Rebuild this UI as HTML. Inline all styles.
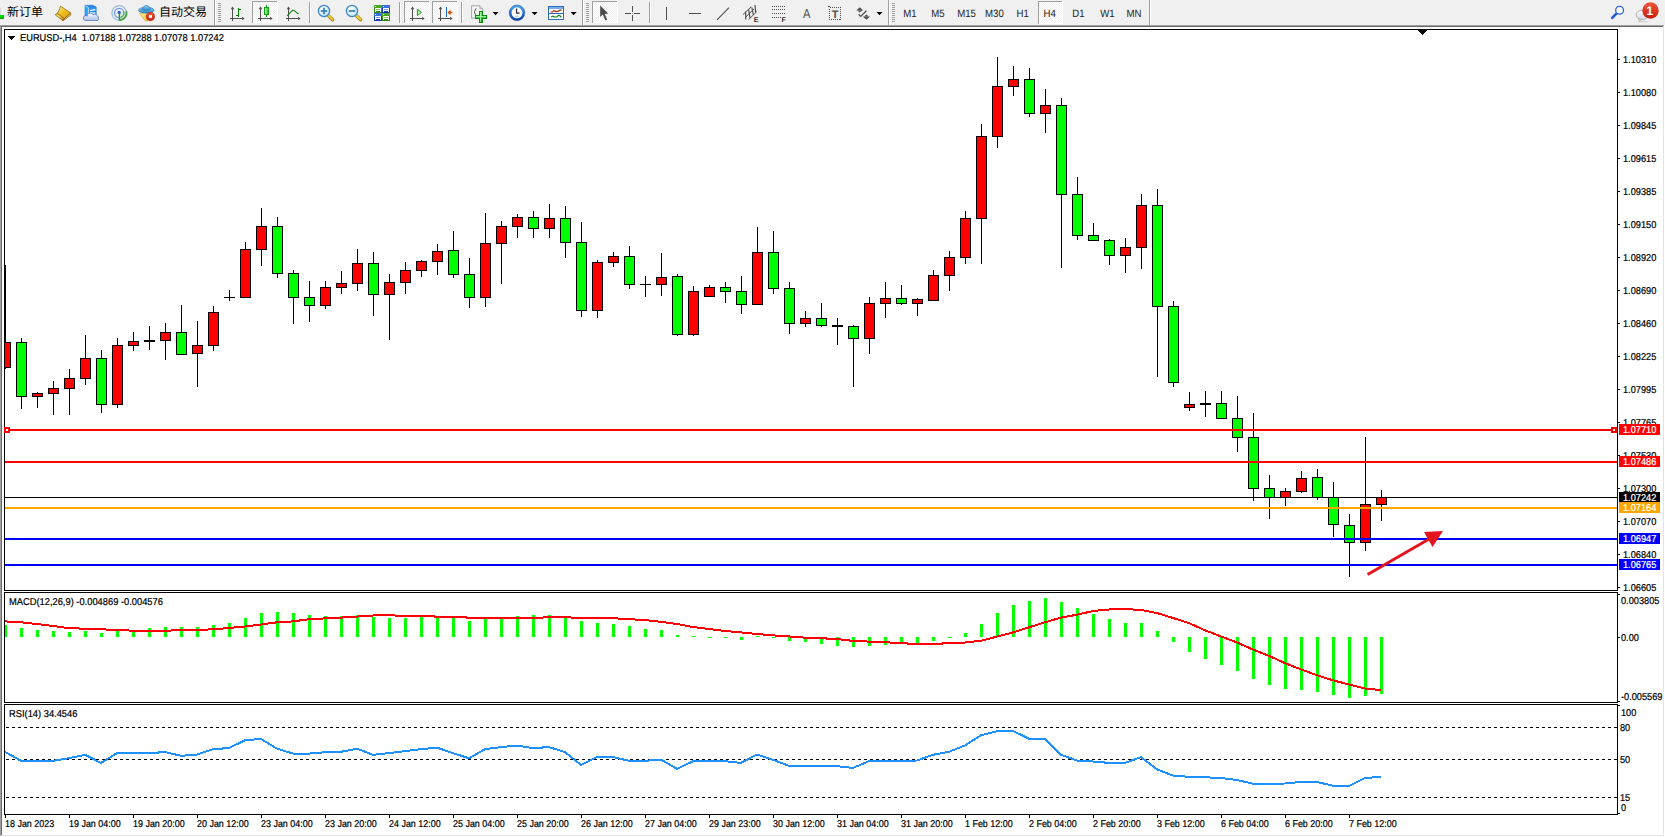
<!DOCTYPE html>
<html lang="zh-CN">
<head>
<meta charset="utf-8">
<title>EURUSD-,H4</title>
<style>
html,body{margin:0;padding:0;background:#fff;overflow:hidden}
body{width:1665px;height:837px;position:relative;font-family:"Liberation Sans", sans-serif}
svg{position:absolute;left:0;top:0;display:block}
svg text{font-family:"Liberation Sans", sans-serif;white-space:pre}
</style>
</head>
<body>
<svg width="1665" height="837" viewBox="0 0 1665 837" shape-rendering="crispEdges" text-rendering="geometricPrecision">
<defs>
<clipPath id="cm"><rect x="5" y="30" width="1612" height="560"/></clipPath>
<clipPath id="cm2"><rect x="5" y="593" width="1612" height="109"/></clipPath>
<clipPath id="cm3"><rect x="5" y="705" width="1612" height="109"/></clipPath>
</defs>
<rect x="0" y="0" width="1665" height="837" fill="#ffffff"/>
<rect x="0" y="0" width="1665" height="25" fill="#f0f0f0"/>
<rect x="0" y="25" width="1665" height="1" fill="#a0a0a0"/>
<rect x="0" y="26" width="1665" height="1" fill="#696969"/>
<rect x="0" y="25" width="1" height="812" fill="#a0a0a0"/>
<rect x="1" y="26" width="1" height="811" fill="#696969"/>
<rect x="1663" y="26" width="1" height="811" fill="#e3e3e3"/>
<rect x="1664" y="25" width="1" height="812" fill="#ffffff"/>
<rect x="1" y="835" width="1663" height="1" fill="#e3e3e3"/>
<rect x="0" y="836" width="1665" height="1" fill="#ffffff"/>
<rect x="4" y="29" width="1614" height="1" fill="#000"/>
<rect x="4" y="590" width="1614" height="1" fill="#000"/>
<rect x="4" y="29" width="1" height="562" fill="#000"/>
<rect x="1617" y="29" width="1" height="562" fill="#000"/>
<rect x="4" y="592" width="1614" height="1" fill="#000"/>
<rect x="4" y="702" width="1614" height="1" fill="#000"/>
<rect x="4" y="592" width="1" height="111" fill="#000"/>
<rect x="1617" y="592" width="1" height="111" fill="#000"/>
<rect x="4" y="704" width="1614" height="1" fill="#000"/>
<rect x="4" y="814" width="1614" height="1" fill="#000"/>
<rect x="4" y="704" width="1" height="111" fill="#000"/>
<rect x="1617" y="704" width="1" height="111" fill="#000"/>
<g clip-path="url(#cm)">
<rect x="5" y="265" width="1" height="104" fill="#000"/>
<rect x="0" y="342" width="11" height="26" fill="#000"/>
<rect x="1" y="343" width="9" height="24" fill="#ff0000"/>
<rect x="21" y="338" width="1" height="71" fill="#000"/>
<rect x="16" y="342" width="11" height="55" fill="#000"/>
<rect x="17" y="343" width="9" height="53" fill="#00ff00"/>
<rect x="37" y="392" width="1" height="16" fill="#000"/>
<rect x="32" y="393" width="11" height="4" fill="#000"/>
<rect x="33" y="394" width="9" height="2" fill="#ff0000"/>
<rect x="53" y="381" width="1" height="34" fill="#000"/>
<rect x="48" y="388" width="11" height="6" fill="#000"/>
<rect x="49" y="389" width="9" height="4" fill="#ff0000"/>
<rect x="69" y="369" width="1" height="46" fill="#000"/>
<rect x="64" y="378" width="11" height="11" fill="#000"/>
<rect x="65" y="379" width="9" height="9" fill="#ff0000"/>
<rect x="85" y="335" width="1" height="50" fill="#000"/>
<rect x="80" y="358" width="11" height="21" fill="#000"/>
<rect x="81" y="359" width="9" height="19" fill="#ff0000"/>
<rect x="101" y="350" width="1" height="63" fill="#000"/>
<rect x="96" y="358" width="11" height="47" fill="#000"/>
<rect x="97" y="359" width="9" height="45" fill="#00ff00"/>
<rect x="117" y="338" width="1" height="70" fill="#000"/>
<rect x="112" y="345" width="11" height="60" fill="#000"/>
<rect x="113" y="346" width="9" height="58" fill="#ff0000"/>
<rect x="133" y="332" width="1" height="19" fill="#000"/>
<rect x="128" y="341" width="11" height="5" fill="#000"/>
<rect x="129" y="342" width="9" height="3" fill="#ff0000"/>
<rect x="149" y="326" width="1" height="24" fill="#000"/>
<rect x="144" y="340" width="11" height="2" fill="#000"/>
<rect x="165" y="323" width="1" height="37" fill="#000"/>
<rect x="160" y="332" width="11" height="9" fill="#000"/>
<rect x="161" y="333" width="9" height="7" fill="#ff0000"/>
<rect x="181" y="305" width="1" height="50" fill="#000"/>
<rect x="176" y="332" width="11" height="23" fill="#000"/>
<rect x="177" y="333" width="9" height="21" fill="#00ff00"/>
<rect x="197" y="321" width="1" height="66" fill="#000"/>
<rect x="192" y="345" width="11" height="9" fill="#000"/>
<rect x="193" y="346" width="9" height="7" fill="#ff0000"/>
<rect x="213" y="306" width="1" height="45" fill="#000"/>
<rect x="208" y="312" width="11" height="34" fill="#000"/>
<rect x="209" y="313" width="9" height="32" fill="#ff0000"/>
<rect x="229" y="290" width="1" height="11" fill="#000"/>
<rect x="224" y="297" width="11" height="1" fill="#000"/>
<rect x="245" y="242" width="1" height="56" fill="#000"/>
<rect x="240" y="249" width="11" height="49" fill="#000"/>
<rect x="241" y="250" width="9" height="47" fill="#ff0000"/>
<rect x="261" y="208" width="1" height="58" fill="#000"/>
<rect x="256" y="226" width="11" height="24" fill="#000"/>
<rect x="257" y="227" width="9" height="22" fill="#ff0000"/>
<rect x="277" y="217" width="1" height="61" fill="#000"/>
<rect x="272" y="226" width="11" height="48" fill="#000"/>
<rect x="273" y="227" width="9" height="46" fill="#00ff00"/>
<rect x="293" y="270" width="1" height="54" fill="#000"/>
<rect x="288" y="273" width="11" height="25" fill="#000"/>
<rect x="289" y="274" width="9" height="23" fill="#00ff00"/>
<rect x="309" y="281" width="1" height="41" fill="#000"/>
<rect x="304" y="297" width="11" height="9" fill="#000"/>
<rect x="305" y="298" width="9" height="7" fill="#00ff00"/>
<rect x="325" y="281" width="1" height="28" fill="#000"/>
<rect x="320" y="287" width="11" height="19" fill="#000"/>
<rect x="321" y="288" width="9" height="17" fill="#ff0000"/>
<rect x="341" y="271" width="1" height="23" fill="#000"/>
<rect x="336" y="283" width="11" height="5" fill="#000"/>
<rect x="337" y="284" width="9" height="3" fill="#ff0000"/>
<rect x="357" y="249" width="1" height="42" fill="#000"/>
<rect x="352" y="263" width="11" height="21" fill="#000"/>
<rect x="353" y="264" width="9" height="19" fill="#ff0000"/>
<rect x="373" y="252" width="1" height="64" fill="#000"/>
<rect x="368" y="263" width="11" height="32" fill="#000"/>
<rect x="369" y="264" width="9" height="30" fill="#00ff00"/>
<rect x="389" y="274" width="1" height="66" fill="#000"/>
<rect x="384" y="282" width="11" height="13" fill="#000"/>
<rect x="385" y="283" width="9" height="11" fill="#ff0000"/>
<rect x="405" y="262" width="1" height="32" fill="#000"/>
<rect x="400" y="270" width="11" height="13" fill="#000"/>
<rect x="401" y="271" width="9" height="11" fill="#ff0000"/>
<rect x="421" y="260" width="1" height="17" fill="#000"/>
<rect x="416" y="261" width="11" height="10" fill="#000"/>
<rect x="417" y="262" width="9" height="8" fill="#ff0000"/>
<rect x="437" y="244" width="1" height="31" fill="#000"/>
<rect x="432" y="251" width="11" height="11" fill="#000"/>
<rect x="433" y="252" width="9" height="9" fill="#ff0000"/>
<rect x="453" y="231" width="1" height="47" fill="#000"/>
<rect x="448" y="250" width="11" height="25" fill="#000"/>
<rect x="449" y="251" width="9" height="23" fill="#00ff00"/>
<rect x="469" y="258" width="1" height="50" fill="#000"/>
<rect x="464" y="274" width="11" height="24" fill="#000"/>
<rect x="465" y="275" width="9" height="22" fill="#00ff00"/>
<rect x="485" y="213" width="1" height="94" fill="#000"/>
<rect x="480" y="243" width="11" height="55" fill="#000"/>
<rect x="481" y="244" width="9" height="53" fill="#ff0000"/>
<rect x="501" y="221" width="1" height="63" fill="#000"/>
<rect x="496" y="226" width="11" height="18" fill="#000"/>
<rect x="497" y="227" width="9" height="16" fill="#ff0000"/>
<rect x="517" y="214" width="1" height="24" fill="#000"/>
<rect x="512" y="217" width="11" height="10" fill="#000"/>
<rect x="513" y="218" width="9" height="8" fill="#ff0000"/>
<rect x="533" y="211" width="1" height="27" fill="#000"/>
<rect x="528" y="217" width="11" height="12" fill="#000"/>
<rect x="529" y="218" width="9" height="10" fill="#00ff00"/>
<rect x="549" y="204" width="1" height="34" fill="#000"/>
<rect x="544" y="218" width="11" height="11" fill="#000"/>
<rect x="545" y="219" width="9" height="9" fill="#ff0000"/>
<rect x="565" y="206" width="1" height="52" fill="#000"/>
<rect x="560" y="218" width="11" height="25" fill="#000"/>
<rect x="561" y="219" width="9" height="23" fill="#00ff00"/>
<rect x="581" y="222" width="1" height="95" fill="#000"/>
<rect x="576" y="242" width="11" height="69" fill="#000"/>
<rect x="577" y="243" width="9" height="67" fill="#00ff00"/>
<rect x="597" y="260" width="1" height="58" fill="#000"/>
<rect x="592" y="262" width="11" height="49" fill="#000"/>
<rect x="593" y="263" width="9" height="47" fill="#ff0000"/>
<rect x="613" y="252" width="1" height="15" fill="#000"/>
<rect x="608" y="256" width="11" height="7" fill="#000"/>
<rect x="609" y="257" width="9" height="5" fill="#ff0000"/>
<rect x="629" y="246" width="1" height="43" fill="#000"/>
<rect x="624" y="256" width="11" height="29" fill="#000"/>
<rect x="625" y="257" width="9" height="27" fill="#00ff00"/>
<rect x="645" y="276" width="1" height="21" fill="#000"/>
<rect x="640" y="284" width="11" height="1" fill="#000"/>
<rect x="661" y="253" width="1" height="43" fill="#000"/>
<rect x="656" y="277" width="11" height="8" fill="#000"/>
<rect x="657" y="278" width="9" height="6" fill="#ff0000"/>
<rect x="677" y="274" width="1" height="62" fill="#000"/>
<rect x="672" y="276" width="11" height="59" fill="#000"/>
<rect x="673" y="277" width="9" height="57" fill="#00ff00"/>
<rect x="693" y="286" width="1" height="50" fill="#000"/>
<rect x="688" y="291" width="11" height="44" fill="#000"/>
<rect x="689" y="292" width="9" height="42" fill="#ff0000"/>
<rect x="709" y="285" width="1" height="12" fill="#000"/>
<rect x="704" y="287" width="11" height="10" fill="#000"/>
<rect x="705" y="288" width="9" height="8" fill="#ff0000"/>
<rect x="725" y="282" width="1" height="21" fill="#000"/>
<rect x="720" y="287" width="11" height="5" fill="#000"/>
<rect x="721" y="288" width="9" height="3" fill="#00ff00"/>
<rect x="741" y="276" width="1" height="38" fill="#000"/>
<rect x="736" y="291" width="11" height="14" fill="#000"/>
<rect x="737" y="292" width="9" height="12" fill="#00ff00"/>
<rect x="757" y="227" width="1" height="78" fill="#000"/>
<rect x="752" y="252" width="11" height="53" fill="#000"/>
<rect x="753" y="253" width="9" height="51" fill="#ff0000"/>
<rect x="773" y="231" width="1" height="63" fill="#000"/>
<rect x="768" y="252" width="11" height="37" fill="#000"/>
<rect x="769" y="253" width="9" height="35" fill="#00ff00"/>
<rect x="789" y="282" width="1" height="52" fill="#000"/>
<rect x="784" y="288" width="11" height="36" fill="#000"/>
<rect x="785" y="289" width="9" height="34" fill="#00ff00"/>
<rect x="805" y="311" width="1" height="16" fill="#000"/>
<rect x="800" y="318" width="11" height="6" fill="#000"/>
<rect x="801" y="319" width="9" height="4" fill="#ff0000"/>
<rect x="821" y="303" width="1" height="24" fill="#000"/>
<rect x="816" y="318" width="11" height="8" fill="#000"/>
<rect x="817" y="319" width="9" height="6" fill="#00ff00"/>
<rect x="837" y="318" width="1" height="27" fill="#000"/>
<rect x="832" y="325" width="11" height="2" fill="#000"/>
<rect x="853" y="325" width="1" height="62" fill="#000"/>
<rect x="848" y="326" width="11" height="13" fill="#000"/>
<rect x="849" y="327" width="9" height="11" fill="#00ff00"/>
<rect x="869" y="297" width="1" height="57" fill="#000"/>
<rect x="864" y="303" width="11" height="36" fill="#000"/>
<rect x="865" y="304" width="9" height="34" fill="#ff0000"/>
<rect x="885" y="282" width="1" height="36" fill="#000"/>
<rect x="880" y="298" width="11" height="6" fill="#000"/>
<rect x="881" y="299" width="9" height="4" fill="#ff0000"/>
<rect x="901" y="285" width="1" height="20" fill="#000"/>
<rect x="896" y="298" width="11" height="6" fill="#000"/>
<rect x="897" y="299" width="9" height="4" fill="#00ff00"/>
<rect x="917" y="298" width="1" height="18" fill="#000"/>
<rect x="912" y="299" width="11" height="5" fill="#000"/>
<rect x="913" y="300" width="9" height="3" fill="#ff0000"/>
<rect x="933" y="270" width="1" height="31" fill="#000"/>
<rect x="928" y="275" width="11" height="26" fill="#000"/>
<rect x="929" y="276" width="9" height="24" fill="#ff0000"/>
<rect x="949" y="251" width="1" height="40" fill="#000"/>
<rect x="944" y="257" width="11" height="19" fill="#000"/>
<rect x="945" y="258" width="9" height="17" fill="#ff0000"/>
<rect x="965" y="211" width="1" height="53" fill="#000"/>
<rect x="960" y="218" width="11" height="40" fill="#000"/>
<rect x="961" y="219" width="9" height="38" fill="#ff0000"/>
<rect x="981" y="124" width="1" height="140" fill="#000"/>
<rect x="976" y="136" width="11" height="83" fill="#000"/>
<rect x="977" y="137" width="9" height="81" fill="#ff0000"/>
<rect x="997" y="57" width="1" height="91" fill="#000"/>
<rect x="992" y="86" width="11" height="51" fill="#000"/>
<rect x="993" y="87" width="9" height="49" fill="#ff0000"/>
<rect x="1013" y="66" width="1" height="30" fill="#000"/>
<rect x="1008" y="79" width="11" height="8" fill="#000"/>
<rect x="1009" y="80" width="9" height="6" fill="#ff0000"/>
<rect x="1029" y="68" width="1" height="49" fill="#000"/>
<rect x="1024" y="79" width="11" height="35" fill="#000"/>
<rect x="1025" y="80" width="9" height="33" fill="#00ff00"/>
<rect x="1045" y="89" width="1" height="44" fill="#000"/>
<rect x="1040" y="105" width="11" height="9" fill="#000"/>
<rect x="1041" y="106" width="9" height="7" fill="#ff0000"/>
<rect x="1061" y="98" width="1" height="170" fill="#000"/>
<rect x="1056" y="105" width="11" height="90" fill="#000"/>
<rect x="1057" y="106" width="9" height="88" fill="#00ff00"/>
<rect x="1077" y="177" width="1" height="63" fill="#000"/>
<rect x="1072" y="194" width="11" height="42" fill="#000"/>
<rect x="1073" y="195" width="9" height="40" fill="#00ff00"/>
<rect x="1093" y="223" width="1" height="18" fill="#000"/>
<rect x="1088" y="235" width="11" height="6" fill="#000"/>
<rect x="1089" y="236" width="9" height="4" fill="#00ff00"/>
<rect x="1109" y="239" width="1" height="26" fill="#000"/>
<rect x="1104" y="240" width="11" height="16" fill="#000"/>
<rect x="1105" y="241" width="9" height="14" fill="#00ff00"/>
<rect x="1125" y="238" width="1" height="35" fill="#000"/>
<rect x="1120" y="247" width="11" height="9" fill="#000"/>
<rect x="1121" y="248" width="9" height="7" fill="#ff0000"/>
<rect x="1141" y="194" width="1" height="75" fill="#000"/>
<rect x="1136" y="205" width="11" height="43" fill="#000"/>
<rect x="1137" y="206" width="9" height="41" fill="#ff0000"/>
<rect x="1157" y="189" width="1" height="188" fill="#000"/>
<rect x="1152" y="205" width="11" height="102" fill="#000"/>
<rect x="1153" y="206" width="9" height="100" fill="#00ff00"/>
<rect x="1173" y="301" width="1" height="86" fill="#000"/>
<rect x="1168" y="306" width="11" height="77" fill="#000"/>
<rect x="1169" y="307" width="9" height="75" fill="#00ff00"/>
<rect x="1189" y="392" width="1" height="19" fill="#000"/>
<rect x="1184" y="404" width="11" height="4" fill="#000"/>
<rect x="1185" y="405" width="9" height="2" fill="#ff0000"/>
<rect x="1205" y="391" width="1" height="26" fill="#000"/>
<rect x="1200" y="403" width="11" height="2" fill="#000"/>
<rect x="1221" y="391" width="1" height="28" fill="#000"/>
<rect x="1216" y="403" width="11" height="16" fill="#000"/>
<rect x="1217" y="404" width="9" height="14" fill="#00ff00"/>
<rect x="1237" y="396" width="1" height="56" fill="#000"/>
<rect x="1232" y="418" width="11" height="20" fill="#000"/>
<rect x="1233" y="419" width="9" height="18" fill="#00ff00"/>
<rect x="1253" y="413" width="1" height="88" fill="#000"/>
<rect x="1248" y="437" width="11" height="52" fill="#000"/>
<rect x="1249" y="438" width="9" height="50" fill="#00ff00"/>
<rect x="1269" y="475" width="1" height="44" fill="#000"/>
<rect x="1264" y="488" width="11" height="10" fill="#000"/>
<rect x="1265" y="489" width="9" height="8" fill="#00ff00"/>
<rect x="1285" y="488" width="1" height="18" fill="#000"/>
<rect x="1280" y="491" width="11" height="7" fill="#000"/>
<rect x="1281" y="492" width="9" height="5" fill="#ff0000"/>
<rect x="1301" y="471" width="1" height="22" fill="#000"/>
<rect x="1296" y="478" width="11" height="14" fill="#000"/>
<rect x="1297" y="479" width="9" height="12" fill="#ff0000"/>
<rect x="1317" y="469" width="1" height="31" fill="#000"/>
<rect x="1312" y="477" width="11" height="21" fill="#000"/>
<rect x="1313" y="478" width="9" height="19" fill="#00ff00"/>
<rect x="1333" y="482" width="1" height="55" fill="#000"/>
<rect x="1328" y="497" width="11" height="28" fill="#000"/>
<rect x="1329" y="498" width="9" height="26" fill="#00ff00"/>
<rect x="1349" y="514" width="1" height="63" fill="#000"/>
<rect x="1344" y="525" width="11" height="18" fill="#000"/>
<rect x="1345" y="526" width="9" height="16" fill="#00ff00"/>
<rect x="1365" y="437" width="1" height="114" fill="#000"/>
<rect x="1360" y="504" width="11" height="39" fill="#000"/>
<rect x="1361" y="505" width="9" height="37" fill="#ff0000"/>
<rect x="1381" y="490" width="1" height="31" fill="#000"/>
<rect x="1376" y="497" width="11" height="8" fill="#000"/>
<rect x="1377" y="498" width="9" height="6" fill="#ff0000"/>
</g>
<rect x="1618" y="59" width="2" height="1" fill="#000"/>
<text transform="translate(1623 63) scale(0.92 1)" font-size="10" fill="#000" stroke="#000" stroke-width="0.22">1.10310</text>
<rect x="1618" y="92" width="2" height="1" fill="#000"/>
<text transform="translate(1623 96) scale(0.92 1)" font-size="10" fill="#000" stroke="#000" stroke-width="0.22">1.10080</text>
<rect x="1618" y="125" width="2" height="1" fill="#000"/>
<text transform="translate(1623 129) scale(0.92 1)" font-size="10" fill="#000" stroke="#000" stroke-width="0.22">1.09845</text>
<rect x="1618" y="158" width="2" height="1" fill="#000"/>
<text transform="translate(1623 162) scale(0.92 1)" font-size="10" fill="#000" stroke="#000" stroke-width="0.22">1.09615</text>
<rect x="1618" y="191" width="2" height="1" fill="#000"/>
<text transform="translate(1623 195) scale(0.92 1)" font-size="10" fill="#000" stroke="#000" stroke-width="0.22">1.09385</text>
<rect x="1618" y="224" width="2" height="1" fill="#000"/>
<text transform="translate(1623 228) scale(0.92 1)" font-size="10" fill="#000" stroke="#000" stroke-width="0.22">1.09150</text>
<rect x="1618" y="257" width="2" height="1" fill="#000"/>
<text transform="translate(1623 261) scale(0.92 1)" font-size="10" fill="#000" stroke="#000" stroke-width="0.22">1.08920</text>
<rect x="1618" y="290" width="2" height="1" fill="#000"/>
<text transform="translate(1623 294) scale(0.92 1)" font-size="10" fill="#000" stroke="#000" stroke-width="0.22">1.08690</text>
<rect x="1618" y="323" width="2" height="1" fill="#000"/>
<text transform="translate(1623 327) scale(0.92 1)" font-size="10" fill="#000" stroke="#000" stroke-width="0.22">1.08460</text>
<rect x="1618" y="356" width="2" height="1" fill="#000"/>
<text transform="translate(1623 360) scale(0.92 1)" font-size="10" fill="#000" stroke="#000" stroke-width="0.22">1.08225</text>
<rect x="1618" y="389" width="2" height="1" fill="#000"/>
<text transform="translate(1623 393) scale(0.92 1)" font-size="10" fill="#000" stroke="#000" stroke-width="0.22">1.07995</text>
<rect x="1618" y="422" width="2" height="1" fill="#000"/>
<text transform="translate(1623 426) scale(0.92 1)" font-size="10" fill="#000" stroke="#000" stroke-width="0.22">1.07765</text>
<rect x="1618" y="455" width="2" height="1" fill="#000"/>
<text transform="translate(1623 459) scale(0.92 1)" font-size="10" fill="#000" stroke="#000" stroke-width="0.22">1.07530</text>
<rect x="1618" y="488" width="2" height="1" fill="#000"/>
<text transform="translate(1623 492) scale(0.92 1)" font-size="10" fill="#000" stroke="#000" stroke-width="0.22">1.07300</text>
<rect x="1618" y="521" width="2" height="1" fill="#000"/>
<text transform="translate(1623 525) scale(0.92 1)" font-size="10" fill="#000" stroke="#000" stroke-width="0.22">1.07070</text>
<rect x="1618" y="554" width="2" height="1" fill="#000"/>
<text transform="translate(1623 558) scale(0.92 1)" font-size="10" fill="#000" stroke="#000" stroke-width="0.22">1.06840</text>
<rect x="1618" y="587" width="2" height="1" fill="#000"/>
<text transform="translate(1623 591) scale(0.92 1)" font-size="10" fill="#000" stroke="#000" stroke-width="0.22">1.06605</text>
<rect x="5" y="429" width="1612" height="2" fill="#ff0000"/>
<rect x="1619" y="424" width="41" height="11" fill="#ff0000"/>
<text transform="translate(1623 433) scale(0.92 1)" font-size="10" fill="#fff" stroke="#fff" stroke-width="0.22">1.07710</text>
<rect x="5" y="461" width="1612" height="2" fill="#ff0000"/>
<rect x="1619" y="456" width="41" height="11" fill="#ff0000"/>
<text transform="translate(1623 465) scale(0.92 1)" font-size="10" fill="#fff" stroke="#fff" stroke-width="0.22">1.07486</text>
<rect x="5" y="497" width="1612" height="1" fill="#000000"/>
<rect x="1619" y="492" width="41" height="11" fill="#000000"/>
<text transform="translate(1623 501) scale(0.92 1)" font-size="10" fill="#fff" stroke="#fff" stroke-width="0.22">1.07242</text>
<rect x="5" y="507" width="1612" height="2" fill="#ffa500"/>
<rect x="1619" y="502" width="41" height="11" fill="#ffa500"/>
<text transform="translate(1623 511) scale(0.92 1)" font-size="10" fill="#fff" stroke="#fff" stroke-width="0.22">1.07164</text>
<rect x="5" y="538" width="1612" height="2" fill="#0000ff"/>
<rect x="1619" y="533" width="41" height="11" fill="#0000ff"/>
<text transform="translate(1623 542) scale(0.92 1)" font-size="10" fill="#fff" stroke="#fff" stroke-width="0.22">1.06947</text>
<rect x="5" y="564" width="1612" height="2" fill="#0000ff"/>
<rect x="1619" y="559" width="41" height="11" fill="#0000ff"/>
<text transform="translate(1623 568) scale(0.92 1)" font-size="10" fill="#fff" stroke="#fff" stroke-width="0.22">1.06765</text>
<rect x="4" y="427" width="6" height="6" fill="#ff0000"/>
<rect x="6" y="429" width="2" height="2" fill="#ffffff"/>
<rect x="1611" y="427" width="6" height="6" fill="#ff0000"/>
<rect x="1613" y="429" width="2" height="2" fill="#ffffff"/>
<g shape-rendering="geometricPrecision"><line x1="1367.6" y1="574.5" x2="1430" y2="538.5" stroke="#e4141e" stroke-width="3"/><polygon points="1424,532 1443,531 1432.5,547" fill="#e4141e"/></g>
<rect x="8" y="36" width="7" height="1" fill="#000"/>
<rect x="9" y="37" width="5" height="1" fill="#000"/>
<rect x="10" y="38" width="3" height="1" fill="#000"/>
<rect x="11" y="39" width="1" height="1" fill="#000"/>
<text transform="translate(20 41) scale(0.928 1)" font-size="10" fill="#000" stroke="#000" stroke-width="0.22">EURUSD-,H4  1.07188 1.07288 1.07078 1.07242</text>
<rect x="1418" y="30" width="9" height="1" fill="#000"/>
<rect x="1419" y="31" width="7" height="1" fill="#000"/>
<rect x="1420" y="32" width="5" height="1" fill="#000"/>
<rect x="1421" y="33" width="3" height="1" fill="#000"/>
<rect x="1422" y="34" width="1" height="1" fill="#000"/>
<text transform="translate(9 605) scale(0.932 1)" font-size="10" fill="#000" stroke="#000" stroke-width="0.22">MACD(12,26,9) -0.004869 -0.004576</text>
<g clip-path="url(#cm2)">
<rect x="4" y="625" width="3" height="12" fill="#00ff00"/>
<rect x="20" y="628" width="3" height="9" fill="#00ff00"/>
<rect x="36" y="630" width="3" height="7" fill="#00ff00"/>
<rect x="52" y="631" width="3" height="6" fill="#00ff00"/>
<rect x="68" y="632" width="3" height="5" fill="#00ff00"/>
<rect x="84" y="631" width="3" height="6" fill="#00ff00"/>
<rect x="100" y="633" width="3" height="4" fill="#00ff00"/>
<rect x="116" y="631" width="3" height="6" fill="#00ff00"/>
<rect x="132" y="631" width="3" height="6" fill="#00ff00"/>
<rect x="148" y="628" width="3" height="9" fill="#00ff00"/>
<rect x="164" y="627" width="3" height="10" fill="#00ff00"/>
<rect x="180" y="627" width="3" height="10" fill="#00ff00"/>
<rect x="196" y="627" width="3" height="10" fill="#00ff00"/>
<rect x="212" y="625" width="3" height="12" fill="#00ff00"/>
<rect x="228" y="623" width="3" height="14" fill="#00ff00"/>
<rect x="244" y="618" width="3" height="19" fill="#00ff00"/>
<rect x="260" y="613" width="3" height="24" fill="#00ff00"/>
<rect x="276" y="612" width="3" height="25" fill="#00ff00"/>
<rect x="292" y="613" width="3" height="24" fill="#00ff00"/>
<rect x="308" y="615" width="3" height="22" fill="#00ff00"/>
<rect x="324" y="616" width="3" height="21" fill="#00ff00"/>
<rect x="340" y="616" width="3" height="21" fill="#00ff00"/>
<rect x="356" y="615" width="3" height="22" fill="#00ff00"/>
<rect x="372" y="617" width="3" height="20" fill="#00ff00"/>
<rect x="388" y="618" width="3" height="19" fill="#00ff00"/>
<rect x="404" y="618" width="3" height="19" fill="#00ff00"/>
<rect x="420" y="617" width="3" height="20" fill="#00ff00"/>
<rect x="436" y="616" width="3" height="21" fill="#00ff00"/>
<rect x="452" y="617" width="3" height="20" fill="#00ff00"/>
<rect x="468" y="621" width="3" height="16" fill="#00ff00"/>
<rect x="484" y="618" width="3" height="19" fill="#00ff00"/>
<rect x="500" y="618" width="3" height="19" fill="#00ff00"/>
<rect x="516" y="616" width="3" height="21" fill="#00ff00"/>
<rect x="532" y="615" width="3" height="22" fill="#00ff00"/>
<rect x="548" y="615" width="3" height="22" fill="#00ff00"/>
<rect x="564" y="616" width="3" height="21" fill="#00ff00"/>
<rect x="580" y="621" width="3" height="16" fill="#00ff00"/>
<rect x="596" y="623" width="3" height="14" fill="#00ff00"/>
<rect x="612" y="624" width="3" height="13" fill="#00ff00"/>
<rect x="628" y="626" width="3" height="11" fill="#00ff00"/>
<rect x="644" y="629" width="3" height="8" fill="#00ff00"/>
<rect x="660" y="630" width="3" height="7" fill="#00ff00"/>
<rect x="676" y="635" width="3" height="2" fill="#00ff00"/>
<rect x="692" y="636" width="3" height="1" fill="#00ff00"/>
<rect x="708" y="637" width="3" height="1" fill="#00ff00"/>
<rect x="724" y="637" width="3" height="1" fill="#00ff00"/>
<rect x="740" y="637" width="3" height="3" fill="#00ff00"/>
<rect x="756" y="636" width="3" height="1" fill="#00ff00"/>
<rect x="772" y="637" width="3" height="1" fill="#00ff00"/>
<rect x="788" y="637" width="3" height="4" fill="#00ff00"/>
<rect x="804" y="637" width="3" height="5" fill="#00ff00"/>
<rect x="820" y="637" width="3" height="7" fill="#00ff00"/>
<rect x="836" y="637" width="3" height="9" fill="#00ff00"/>
<rect x="852" y="637" width="3" height="10" fill="#00ff00"/>
<rect x="868" y="637" width="3" height="9" fill="#00ff00"/>
<rect x="884" y="637" width="3" height="8" fill="#00ff00"/>
<rect x="900" y="637" width="3" height="7" fill="#00ff00"/>
<rect x="916" y="637" width="3" height="6" fill="#00ff00"/>
<rect x="932" y="637" width="3" height="4" fill="#00ff00"/>
<rect x="948" y="637" width="3" height="1" fill="#00ff00"/>
<rect x="964" y="633" width="3" height="4" fill="#00ff00"/>
<rect x="980" y="624" width="3" height="13" fill="#00ff00"/>
<rect x="996" y="613" width="3" height="24" fill="#00ff00"/>
<rect x="1012" y="605" width="3" height="32" fill="#00ff00"/>
<rect x="1028" y="601" width="3" height="36" fill="#00ff00"/>
<rect x="1044" y="598" width="3" height="39" fill="#00ff00"/>
<rect x="1060" y="602" width="3" height="35" fill="#00ff00"/>
<rect x="1076" y="608" width="3" height="29" fill="#00ff00"/>
<rect x="1092" y="614" width="3" height="23" fill="#00ff00"/>
<rect x="1108" y="619" width="3" height="18" fill="#00ff00"/>
<rect x="1124" y="623" width="3" height="14" fill="#00ff00"/>
<rect x="1140" y="623" width="3" height="14" fill="#00ff00"/>
<rect x="1156" y="631" width="3" height="6" fill="#00ff00"/>
<rect x="1172" y="637" width="3" height="5" fill="#00ff00"/>
<rect x="1188" y="637" width="3" height="15" fill="#00ff00"/>
<rect x="1204" y="637" width="3" height="22" fill="#00ff00"/>
<rect x="1220" y="637" width="3" height="28" fill="#00ff00"/>
<rect x="1236" y="637" width="3" height="34" fill="#00ff00"/>
<rect x="1252" y="637" width="3" height="42" fill="#00ff00"/>
<rect x="1268" y="637" width="3" height="48" fill="#00ff00"/>
<rect x="1284" y="637" width="3" height="52" fill="#00ff00"/>
<rect x="1300" y="637" width="3" height="53" fill="#00ff00"/>
<rect x="1316" y="637" width="3" height="55" fill="#00ff00"/>
<rect x="1332" y="637" width="3" height="58" fill="#00ff00"/>
<rect x="1348" y="637" width="3" height="61" fill="#00ff00"/>
<rect x="1364" y="637" width="3" height="59" fill="#00ff00"/>
<rect x="1380" y="637" width="3" height="57" fill="#00ff00"/>
</g>
<polyline points="5,621.4 21,622.3 37,624.0 53,626.0 69,628.2 85,628.7 101,629.3 117,630.0 133,630.7 149,630.9 165,630.7 181,630.2 197,630.0 213,629.3 229,628.0 245,626.5 261,624.5 277,622.3 293,621.4 309,619.2 325,618.4 341,617.6 357,616.6 373,615.5 389,615.2 405,616.0 421,616.0 437,616.6 453,617.0 469,617.6 485,618.0 501,618.0 517,618.0 533,618.0 549,617.2 565,617.2 581,618.0 597,618.0 613,618.2 629,619.2 645,620.0 661,621.9 677,624.0 693,627.0 709,629.0 725,631.0 741,632.4 757,634.0 773,635.4 789,636.4 805,637.7 821,638.2 837,639.1 853,640.9 869,641.6 885,642.1 901,643.3 917,643.8 933,643.8 949,643.3 965,642.5 981,640.8 997,636.6 1013,632.4 1029,627.3 1045,622.3 1061,617.6 1077,614.7 1093,611.0 1109,609.5 1125,609.0 1141,610.0 1157,613.0 1173,618.0 1189,623.1 1205,630.3 1221,636.4 1237,642.5 1253,649.5 1269,655.9 1285,663.1 1301,669.4 1317,675.3 1333,680.3 1349,684.5 1365,688.6 1381,690.0" fill="none" stroke="#ff0000" stroke-width="2" shape-rendering="crispEdges" clip-path="url(#cm2)"/>
<rect x="1618" y="594" width="2" height="1" fill="#000"/>
<text transform="translate(1621 604) scale(0.92 1)" font-size="10" fill="#000" stroke="#000" stroke-width="0.22">0.003805</text>
<rect x="1618" y="637" width="2" height="1" fill="#000"/>
<text transform="translate(1621 641) scale(0.92 1)" font-size="10" fill="#000" stroke="#000" stroke-width="0.22">0.00</text>
<rect x="1618" y="701" width="2" height="1" fill="#000"/>
<text transform="translate(1621 700) scale(0.92 1)" font-size="10" fill="#000" stroke="#000" stroke-width="0.22">-0.005569</text>
<text transform="translate(9 717) scale(0.932 1)" font-size="10" fill="#000" stroke="#000" stroke-width="0.22">RSI(14) 34.4546</text>
<line x1="6" y1="727.5" x2="1617" y2="727.5" stroke="#000" stroke-width="1" stroke-dasharray="3 3" stroke-dashoffset="0"/>
<line x1="6" y1="759.5" x2="1617" y2="759.5" stroke="#000" stroke-width="1" stroke-dasharray="3 3" stroke-dashoffset="0"/>
<line x1="6" y1="797.5" x2="1617" y2="797.5" stroke="#000" stroke-width="1" stroke-dasharray="3 3" stroke-dashoffset="0"/>
<polyline points="5,751.9 21,760.8 37,760.8 53,760.8 69,758.2 85,754.8 101,762.9 117,753.1 133,753.1 149,753.1 165,752.1 181,755.8 197,754.5 213,749.1 229,748.1 245,740.2 261,739.0 277,748.6 293,753.6 309,753.6 325,752.3 341,751.8 357,748.7 373,754.8 389,753.1 405,751.1 421,749.1 437,747.7 453,753.1 469,758.3 485,749.1 501,747.1 517,745.5 533,748.1 549,747.1 565,752.1 581,764.9 597,757.1 613,757.1 629,760.8 645,760.8 661,759.5 677,768.9 693,761.2 709,760.8 725,761.2 741,762.9 757,754.5 773,759.8 789,765.9 805,765.9 821,765.9 837,766.2 853,767.9 869,761.2 885,760.8 901,760.8 917,760.5 933,754.8 949,751.8 965,745.4 981,735.3 997,731.2 1013,730.9 1029,738.8 1045,738.8 1061,754.8 1077,760.5 1093,761.5 1109,762.9 1125,762.9 1141,757.1 1157,769.3 1173,775.6 1189,776.8 1205,777.3 1221,778.0 1237,780.0 1253,783.7 1269,783.7 1285,783.5 1301,781.9 1317,782.0 1333,785.7 1349,785.9 1365,778.0 1381,776.8" fill="none" stroke="#1e90ff" stroke-width="2" shape-rendering="crispEdges" clip-path="url(#cm3)"/>
<rect x="1618" y="705" width="2" height="1" fill="#000"/>
<text transform="translate(1621 716) scale(0.92 1)" font-size="10" fill="#000" stroke="#000" stroke-width="0.22">100</text>
<text transform="translate(1620 731) scale(0.92 1)" font-size="10" fill="#000" stroke="#000" stroke-width="0.22">80</text>
<text transform="translate(1620 763) scale(0.92 1)" font-size="10" fill="#000" stroke="#000" stroke-width="0.22">50</text>
<text transform="translate(1620 801) scale(0.92 1)" font-size="10" fill="#000" stroke="#000" stroke-width="0.22">15</text>
<text transform="translate(1621 811) scale(0.92 1)" font-size="10" fill="#000" stroke="#000" stroke-width="0.22">0</text>
<rect x="1618" y="813" width="2" height="1" fill="#000"/>
<rect x="5" y="815" width="1" height="3" fill="#000"/>
<text transform="translate(5 827) scale(0.893 1)" font-size="10" fill="#000" stroke="#000" stroke-width="0.22">18 Jan 2023</text>
<rect x="69" y="815" width="1" height="3" fill="#000"/>
<text transform="translate(69 827) scale(0.893 1)" font-size="10" fill="#000" stroke="#000" stroke-width="0.22">19 Jan 04:00</text>
<rect x="133" y="815" width="1" height="3" fill="#000"/>
<text transform="translate(133 827) scale(0.893 1)" font-size="10" fill="#000" stroke="#000" stroke-width="0.22">19 Jan 20:00</text>
<rect x="197" y="815" width="1" height="3" fill="#000"/>
<text transform="translate(197 827) scale(0.893 1)" font-size="10" fill="#000" stroke="#000" stroke-width="0.22">20 Jan 12:00</text>
<rect x="261" y="815" width="1" height="3" fill="#000"/>
<text transform="translate(261 827) scale(0.893 1)" font-size="10" fill="#000" stroke="#000" stroke-width="0.22">23 Jan 04:00</text>
<rect x="325" y="815" width="1" height="3" fill="#000"/>
<text transform="translate(325 827) scale(0.893 1)" font-size="10" fill="#000" stroke="#000" stroke-width="0.22">23 Jan 20:00</text>
<rect x="389" y="815" width="1" height="3" fill="#000"/>
<text transform="translate(389 827) scale(0.893 1)" font-size="10" fill="#000" stroke="#000" stroke-width="0.22">24 Jan 12:00</text>
<rect x="453" y="815" width="1" height="3" fill="#000"/>
<text transform="translate(453 827) scale(0.893 1)" font-size="10" fill="#000" stroke="#000" stroke-width="0.22">25 Jan 04:00</text>
<rect x="517" y="815" width="1" height="3" fill="#000"/>
<text transform="translate(517 827) scale(0.893 1)" font-size="10" fill="#000" stroke="#000" stroke-width="0.22">25 Jan 20:00</text>
<rect x="581" y="815" width="1" height="3" fill="#000"/>
<text transform="translate(581 827) scale(0.893 1)" font-size="10" fill="#000" stroke="#000" stroke-width="0.22">26 Jan 12:00</text>
<rect x="645" y="815" width="1" height="3" fill="#000"/>
<text transform="translate(645 827) scale(0.893 1)" font-size="10" fill="#000" stroke="#000" stroke-width="0.22">27 Jan 04:00</text>
<rect x="709" y="815" width="1" height="3" fill="#000"/>
<text transform="translate(709 827) scale(0.893 1)" font-size="10" fill="#000" stroke="#000" stroke-width="0.22">29 Jan 23:00</text>
<rect x="773" y="815" width="1" height="3" fill="#000"/>
<text transform="translate(773 827) scale(0.893 1)" font-size="10" fill="#000" stroke="#000" stroke-width="0.22">30 Jan 12:00</text>
<rect x="837" y="815" width="1" height="3" fill="#000"/>
<text transform="translate(837 827) scale(0.893 1)" font-size="10" fill="#000" stroke="#000" stroke-width="0.22">31 Jan 04:00</text>
<rect x="901" y="815" width="1" height="3" fill="#000"/>
<text transform="translate(901 827) scale(0.893 1)" font-size="10" fill="#000" stroke="#000" stroke-width="0.22">31 Jan 20:00</text>
<rect x="965" y="815" width="1" height="3" fill="#000"/>
<text transform="translate(965 827) scale(0.893 1)" font-size="10" fill="#000" stroke="#000" stroke-width="0.22">1 Feb 12:00</text>
<rect x="1029" y="815" width="1" height="3" fill="#000"/>
<text transform="translate(1029 827) scale(0.893 1)" font-size="10" fill="#000" stroke="#000" stroke-width="0.22">2 Feb 04:00</text>
<rect x="1093" y="815" width="1" height="3" fill="#000"/>
<text transform="translate(1093 827) scale(0.893 1)" font-size="10" fill="#000" stroke="#000" stroke-width="0.22">2 Feb 20:00</text>
<rect x="1157" y="815" width="1" height="3" fill="#000"/>
<text transform="translate(1157 827) scale(0.893 1)" font-size="10" fill="#000" stroke="#000" stroke-width="0.22">3 Feb 12:00</text>
<rect x="1221" y="815" width="1" height="3" fill="#000"/>
<text transform="translate(1221 827) scale(0.893 1)" font-size="10" fill="#000" stroke="#000" stroke-width="0.22">6 Feb 04:00</text>
<rect x="1285" y="815" width="1" height="3" fill="#000"/>
<text transform="translate(1285 827) scale(0.893 1)" font-size="10" fill="#000" stroke="#000" stroke-width="0.22">6 Feb 20:00</text>
<rect x="1349" y="815" width="1" height="3" fill="#000"/>
<text transform="translate(1349 827) scale(0.893 1)" font-size="10" fill="#000" stroke="#000" stroke-width="0.22">7 Feb 12:00</text>
<defs><pattern id="chk" width="2" height="2" patternUnits="userSpaceOnUse"><rect width="2" height="2" fill="#ffffff"/><rect width="1" height="1" fill="#f0f0f0"/><rect x="1" y="1" width="1" height="1" fill="#f0f0f0"/></pattern><linearGradient id="gGold" x1="0" y1="0" x2=".8" y2="1"><stop offset="0" stop-color="#fff0a0"/><stop offset=".5" stop-color="#eec024"/><stop offset="1" stop-color="#dca414"/></linearGradient><linearGradient id="gBlue" x1="0" y1="0" x2="0" y2="1"><stop offset="0" stop-color="#28a0ff"/><stop offset="1" stop-color="#1478e4"/></linearGradient><linearGradient id="gCloud" gradientUnits="userSpaceOnUse" x1="0" y1="13" x2="0" y2="20.5"><stop offset="0" stop-color="#ffffff"/><stop offset="1" stop-color="#a8c0e8"/></linearGradient><linearGradient id="gGreen" x1="0" y1="0" x2="1" y2="0"><stop offset="0" stop-color="#b8ffb8"/><stop offset="1" stop-color="#18c018"/></linearGradient><linearGradient id="gPlus" x1="0" y1="0" x2="0" y2="1"><stop offset="0" stop-color="#80f080"/><stop offset="1" stop-color="#08a008"/></linearGradient><linearGradient id="gRed" x1="0" y1="0" x2="0" y2="1"><stop offset="0" stop-color="#ec5a38"/><stop offset="1" stop-color="#cc1808"/></linearGradient><radialGradient id="gLens" cx=".4" cy=".35" r=".7"><stop offset="0" stop-color="#ffffff"/><stop offset="1" stop-color="#bfe4f8"/></radialGradient><linearGradient id="gClock" x1="0" y1="0" x2="0" y2="1"><stop offset="0" stop-color="#48a0f0"/><stop offset="1" stop-color="#0c48a8"/></linearGradient><linearGradient id="gHat" x1="0" y1="0" x2="0" y2="1"><stop offset="0" stop-color="#8fd0f4"/><stop offset="1" stop-color="#2e86c8"/></linearGradient><linearGradient id="gFace" x1="0" y1="0" x2="1" y2="1"><stop offset="0" stop-color="#fff6a0"/><stop offset="1" stop-color="#e8b010"/></linearGradient><linearGradient id="gBub" x1="0" y1="0" x2="0" y2="1"><stop offset="0" stop-color="#ffffff"/><stop offset="1" stop-color="#d4d4e4"/></linearGradient><linearGradient id="gSpine" x1="0" y1="0" x2=".45" y2="1"><stop offset="0" stop-color="#c89010"/><stop offset=".45" stop-color="#f6e078"/><stop offset="1" stop-color="#b47c08"/></linearGradient></defs>
<g id="toolbar">
<rect x="0" y="15" width="4" height="4" fill="#00dc00"/>
<rect x="0" y="18" width="4" height="1" fill="#109010"/>
<rect x="3" y="15" width="1" height="4" fill="#20a820"/>
<rect x="0" y="8" width="1" height="7" fill="#d8d8d8"/>
<text x="7" y="16.4" font-size="12" fill="#000" font-family='"Liberation Sans", "Noto Sans CJK SC", sans-serif'>新订单</text>
<g shape-rendering="geometricPrecision" stroke-linejoin="round"><path d="M70.4,12.8 L70.9,15 L63,20.8 L64.3,18.6 Z" fill="#e6d48c" stroke="#8e5e06" stroke-width=".7"/><path d="M70.6,13.9 L63.7,19.6" stroke="#a07818" stroke-width=".5" fill="none"/><path d="M57.4,13.2 L64.3,18.6 L63,20.8 L55.1,14.7 Z" fill="url(#gSpine)" stroke="#9a6a08" stroke-width=".7"/><path d="M60.5,6.2 L70.4,12.8 L64.3,18.6 L57.4,13.2 C58.7,11.4 59.7,9 60.5,6.2 Z" fill="url(#gGold)" stroke="#9a6a08" stroke-width=".8"/></g>
<g shape-rendering="geometricPrecision"><path d="M85,5.4 L88.4,7.2 L88.4,15.6 L85,15.6 Z" fill="#24acff" stroke="#1a7ae0" stroke-width=".6"/><path d="M85,5.4 L92.6,5.2 L96.2,7.2 L88.4,7.2 Z" fill="#2090f0" stroke="#1a6cd8" stroke-width=".6"/><path d="M88.4,7.2 L96.2,7.2 L96.2,15.6 L88.4,15.6 Z" fill="url(#gBlue)" stroke="#1a70dc" stroke-width=".6"/><path d="M85.3,5.8 L88.4,7.5 L88.4,15" fill="none" stroke="#eaf6ff" stroke-width=".8"/><path d="M90,10.6 L95.4,9.6" stroke="#ffffff" stroke-width="1.2"/><rect x="90" y="12" width="5.4" height="2.2" fill="#d6ecff" opacity=".8"/><g fill="#5470ac" stroke="#5470ac" stroke-width="1.1"><circle cx="85.8" cy="18.1" r="2.2"/><circle cx="90.4" cy="16.5" r="3"/><circle cx="94.7" cy="16.9" r="2.4"/><circle cx="96.5" cy="18.3" r="2"/><rect x="85.8" y="17" width="10.7" height="3.3"/></g><g fill="url(#gCloud)" stroke="none"><circle cx="85.8" cy="18.1" r="2.2"/><circle cx="90.4" cy="16.5" r="3"/><circle cx="94.7" cy="16.9" r="2.4"/><circle cx="96.5" cy="18.3" r="2"/><rect x="85.8" y="17" width="10.7" height="3.3"/></g></g>
<g shape-rendering="geometricPrecision" fill="none"><path d="M119.3,13 L119.3,20.4 A7.4,7.4 0 0 0 126.6,11.4 Z" fill="#cfe8cf" opacity=".8"/><circle cx="119.2" cy="13" r="7.3" stroke="#9cb8e8" stroke-width="1.3"/><circle cx="119.2" cy="13" r="4.7" stroke="#6c94dc" stroke-width="1.2"/><path d="M119.8,20.3 A7.3,7.3 0 0 0 126.4,11.2" stroke="#4ca44c" stroke-width="1.9"/><path d="M120.2,17.6 A4.7,4.7 0 0 0 123.8,11.8" stroke="#6cb46c" stroke-width="1.3"/><circle cx="119.2" cy="12.5" r="1.7" fill="#2c62d0"/><path d="M119.4,13.2 L119.4,20.6" stroke="#18a018" stroke-width="1.3"/></g>
<g shape-rendering="geometricPrecision"><path d="M139.4,13.2 L152.8,12.4 L147.6,20.8 L145.2,20.8 Z" fill="url(#gFace)" stroke="#d09c10" stroke-width=".6"/><ellipse cx="146.3" cy="10.2" rx="7.8" ry="2.9" fill="url(#gHat)" stroke="#2a78b8" stroke-width=".7"/><path d="M142.3,9.6 C142.5,4.4 150,4.2 150.4,9.4 C148,10.8 144.6,10.9 142.3,9.6 Z" fill="url(#gHat)" stroke="#2a78b8" stroke-width=".7"/><circle cx="150.4" cy="16.6" r="4.1" fill="url(#gRed)" stroke="#b81808" stroke-width=".6"/><rect x="148.9" y="15.1" width="3" height="3" fill="#ffffff"/></g>
<text x="158.9" y="16.4" font-size="12" fill="#000" font-family='"Liberation Sans", "Noto Sans CJK SC", sans-serif'>自动交易</text>
<rect x="214" y="0" width="1" height="25" fill="#a0a0a0"/>
<rect x="215" y="0" width="1" height="25" fill="#ffffff"/>
<rect x="218" y="3" width="3" height="1" fill="#a0a0a0"/>
<rect x="218" y="5" width="3" height="1" fill="#a0a0a0"/>
<rect x="218" y="7" width="3" height="1" fill="#a0a0a0"/>
<rect x="218" y="9" width="3" height="1" fill="#a0a0a0"/>
<rect x="218" y="11" width="3" height="1" fill="#a0a0a0"/>
<rect x="218" y="13" width="3" height="1" fill="#a0a0a0"/>
<rect x="218" y="15" width="3" height="1" fill="#a0a0a0"/>
<rect x="218" y="17" width="3" height="1" fill="#a0a0a0"/>
<rect x="218" y="19" width="3" height="1" fill="#a0a0a0"/>
<rect x="218" y="21" width="3" height="1" fill="#a0a0a0"/>
<rect x="232" y="7" width="1" height="14" fill="#505050"/>
<rect x="230" y="18" width="14" height="1" fill="#505050"/>
<polygon points="232.5,6.6 234.3,9.2 230.7,9.2" fill="#505050" shape-rendering="geometricPrecision"/>
<polygon points="244.6,18.5 242.2,16.8 242.2,20.2" fill="#505050" shape-rendering="geometricPrecision"/>
<rect x="238" y="8" width="1" height="9" fill="#008000"/>
<rect x="239" y="9" width="2" height="1" fill="#008000"/>
<rect x="236" y="15" width="2" height="1" fill="#008000"/>
<rect x="252" y="1" width="26" height="22" fill="url(#chk)"/>
<rect x="277" y="1" width="1" height="22" fill="#ffffff"/>
<rect x="252" y="22" width="26" height="1" fill="#ffffff"/>
<rect x="252" y="1" width="25" height="1" fill="#a0a0a0"/>
<rect x="252" y="1" width="1" height="22" fill="#a0a0a0"/>
<rect x="260" y="7" width="1" height="14" fill="#505050"/>
<rect x="258" y="18" width="14" height="1" fill="#505050"/>
<polygon points="260.5,6.6 262.3,9.2 258.7,9.2" fill="#505050" shape-rendering="geometricPrecision"/>
<polygon points="272.6,18.5 270.2,16.8 270.2,20.2" fill="#505050" shape-rendering="geometricPrecision"/>
<rect x="266" y="5" width="1" height="12" fill="#109810"/>
<rect x="264.5" y="7.5" width="4" height="7" fill="url(#gGreen)" stroke="#10a010" stroke-width="1"/>
<rect x="288" y="7" width="1" height="14" fill="#505050"/>
<rect x="286" y="18" width="14" height="1" fill="#505050"/>
<polygon points="288.5,6.6 290.3,9.2 286.7,9.2" fill="#505050" shape-rendering="geometricPrecision"/>
<polygon points="300.6,18.5 298.2,16.8 298.2,20.2" fill="#505050" shape-rendering="geometricPrecision"/>
<path d="M287,15.7 C289.6,14.4 290.8,10.4 293,10.3 C295,10.2 296.2,13.2 298.8,14" fill="none" stroke="#1a8a1a" stroke-width="1.2" shape-rendering="geometricPrecision"/>
<rect x="309" y="2" width="1" height="21" fill="#a0a0a0"/>
<rect x="310" y="2" width="1" height="21" fill="#ffffff"/>
<g shape-rendering="geometricPrecision"><path d="M328.2,15.4 L332.6,19.8" stroke="#b08a08" stroke-width="3.4" stroke-linecap="round"/><path d="M328.4,15.4 L332.4,19.4" stroke="#f0d040" stroke-width="1.8" stroke-linecap="round"/><circle cx="324" cy="11" r="5.6" fill="url(#gLens)" stroke="#3c84cc" stroke-width="1.3"/><path d="M320.8,11 L327.2,11" stroke="#3a84b4" stroke-width="1.8"/><path d="M324,7.8 L324,14.2" stroke="#3a84b4" stroke-width="1.8"/></g>
<g shape-rendering="geometricPrecision"><path d="M356.2,15.4 L360.6,19.8" stroke="#b08a08" stroke-width="3.4" stroke-linecap="round"/><path d="M356.4,15.4 L360.4,19.4" stroke="#f0d040" stroke-width="1.8" stroke-linecap="round"/><circle cx="352" cy="11" r="5.6" fill="url(#gLens)" stroke="#3c84cc" stroke-width="1.3"/><path d="M348.8,11 L355.2,11" stroke="#3a84b4" stroke-width="1.8"/></g>
<rect x="374" y="5" width="8" height="8" fill="#2c8a10"/>
<rect x="374" y="5" width="8" height="3" fill="#4aa828"/>
<rect x="375" y="6" width="1" height="1" fill="#e8f4ff"/>
<rect x="375" y="8" width="6" height="4" fill="#ffffff"/>
<rect x="376" y="9" width="4" height="1" fill="#4aa828" opacity=".7"/>
<rect x="376" y="11" width="4" height="1" fill="#2c8a10"/>
<rect x="382" y="5" width="8" height="8" fill="#1238b8"/>
<rect x="382" y="5" width="8" height="3" fill="#3a70e8"/>
<rect x="383" y="6" width="1" height="1" fill="#e8f4ff"/>
<rect x="383" y="8" width="6" height="4" fill="#ffffff"/>
<rect x="384" y="9" width="4" height="1" fill="#3a70e8" opacity=".7"/>
<rect x="384" y="11" width="4" height="1" fill="#1238b8"/>
<rect x="374" y="13" width="8" height="8" fill="#1238b8"/>
<rect x="374" y="13" width="8" height="3" fill="#3a70e8"/>
<rect x="375" y="14" width="1" height="1" fill="#e8f4ff"/>
<rect x="375" y="16" width="6" height="4" fill="#ffffff"/>
<rect x="376" y="17" width="4" height="1" fill="#3a70e8" opacity=".7"/>
<rect x="376" y="19" width="4" height="1" fill="#1238b8"/>
<rect x="382" y="13" width="8" height="8" fill="#2c8a10"/>
<rect x="382" y="13" width="8" height="3" fill="#4aa828"/>
<rect x="383" y="14" width="1" height="1" fill="#e8f4ff"/>
<rect x="383" y="16" width="6" height="4" fill="#ffffff"/>
<rect x="384" y="17" width="4" height="1" fill="#4aa828" opacity=".7"/>
<rect x="384" y="19" width="4" height="1" fill="#2c8a10"/>
<rect x="399" y="2" width="1" height="21" fill="#a0a0a0"/>
<rect x="400" y="2" width="1" height="21" fill="#ffffff"/>
<rect x="404" y="1" width="26" height="22" fill="url(#chk)"/>
<rect x="429" y="1" width="1" height="22" fill="#ffffff"/>
<rect x="404" y="22" width="26" height="1" fill="#ffffff"/>
<rect x="404" y="1" width="25" height="1" fill="#a0a0a0"/>
<rect x="404" y="1" width="1" height="22" fill="#a0a0a0"/>
<rect x="412" y="7" width="1" height="14" fill="#505050"/>
<rect x="410" y="18" width="14" height="1" fill="#505050"/>
<polygon points="412.5,6.6 414.3,9.2 410.7,9.2" fill="#505050" shape-rendering="geometricPrecision"/>
<polygon points="424.6,18.5 422.2,16.8 422.2,20.2" fill="#505050" shape-rendering="geometricPrecision"/>
<polygon points="417.4,9.2 417.4,15.6 421.4,12.4" fill="#b0f0b0" stroke="#189818" stroke-width="1" shape-rendering="geometricPrecision"/>
<rect x="432" y="1" width="26" height="22" fill="url(#chk)"/>
<rect x="457" y="1" width="1" height="22" fill="#ffffff"/>
<rect x="432" y="22" width="26" height="1" fill="#ffffff"/>
<rect x="432" y="1" width="25" height="1" fill="#a0a0a0"/>
<rect x="432" y="1" width="1" height="22" fill="#a0a0a0"/>
<rect x="440" y="7" width="1" height="14" fill="#505050"/>
<rect x="438" y="18" width="14" height="1" fill="#505050"/>
<polygon points="440.5,6.6 442.3,9.2 438.7,9.2" fill="#505050" shape-rendering="geometricPrecision"/>
<polygon points="452.6,18.5 450.2,16.8 450.2,20.2" fill="#505050" shape-rendering="geometricPrecision"/>
<rect x="446" y="7" width="1" height="10" fill="#1470b0"/>
<path d="M447.8,12.5 L452.4,12.5 M450.2,10.6 L448,12.5 L450.2,14.4 Z" stroke="#e04800" stroke-width="1" fill="#e04800" shape-rendering="geometricPrecision"/>
<rect x="461" y="2" width="1" height="21" fill="#a0a0a0"/>
<rect x="462" y="2" width="1" height="21" fill="#ffffff"/>
<g shape-rendering="geometricPrecision"><path d="M471.6,5.8 L479.8,5.8 L482.8,8.8 L482.8,18.2 L471.6,18.2 Z" fill="#f8f8f8" stroke="#909090" stroke-width=".8"/><path d="M479.8,5.8 L479.8,8.8 L482.8,8.8" fill="#e0e0e0" stroke="#909090" stroke-width=".7"/><path d="M476.4,8.4 C474.6,8.4 475.6,11.6 474,12 C475.6,12.4 474.6,15.6 476.4,15.6" fill="none" stroke="#505050" stroke-width="1"/></g>
<path d="M479.5,11.5 H482.5 V15.5 H486.5 V18.5 H482.5 V22.5 H479.5 V18.5 H475.5 V15.5 H479.5 Z" fill="url(#gPlus)" stroke="#0c8c0c" stroke-width="1" shape-rendering="crispEdges"/>
<rect x="480" y="12" width="1" height="10" fill="#b8ffb8" opacity=".7"/>
<rect x="476" y="16" width="10" height="1" fill="#b8ffb8" opacity=".7"/>
<polygon points="492.6,12 498.6,12 495.6,15.3" fill="#000" shape-rendering="geometricPrecision"/>
<g shape-rendering="geometricPrecision"><circle cx="517" cy="12.8" r="6.7" fill="#ffffff" stroke="url(#gClock)" stroke-width="2.5"/><circle cx="517" cy="12.8" r="7.9" fill="none" stroke="#0c3c8c" stroke-width=".5" opacity=".6"/><path d="M516.6,8.6 V13.2 H519.6" fill="none" stroke="#303030" stroke-width="1.3"/><path d="M515.4,16.2 H518.4" stroke="#78b4f0" stroke-width="1"/></g>
<polygon points="531.6,12 537.6,12 534.6,15.3" fill="#000" shape-rendering="geometricPrecision"/>
<rect x="548" y="6" width="16" height="14" fill="#2c6cb8"/>
<rect x="549" y="7" width="14" height="2" fill="#78b0e8"/>
<rect x="549" y="9" width="14" height="4" fill="#ffffff"/>
<rect x="549" y="14" width="14" height="5" fill="#ffffff"/>
<path d="M550.5,12 L552.5,12 L554,10.6 L556,11.6 L558,11.4 L560,10.2 L561.6,10.2" fill="none" stroke="#a82808" stroke-width="1.2" shape-rendering="geometricPrecision"/>
<path d="M551,17 L553,16.2 L555,17.2 L557,16.8 L558.8,15.2 L560.2,16 L561.4,17.4" fill="none" stroke="#108428" stroke-width="1.2" shape-rendering="geometricPrecision"/>
<polygon points="570.6,12 576.6,12 573.6,15.3" fill="#000" shape-rendering="geometricPrecision"/>
<rect x="582" y="0" width="1" height="25" fill="#a0a0a0"/>
<rect x="583" y="0" width="1" height="25" fill="#ffffff"/>
<rect x="586" y="3" width="3" height="1" fill="#a0a0a0"/>
<rect x="586" y="5" width="3" height="1" fill="#a0a0a0"/>
<rect x="586" y="7" width="3" height="1" fill="#a0a0a0"/>
<rect x="586" y="9" width="3" height="1" fill="#a0a0a0"/>
<rect x="586" y="11" width="3" height="1" fill="#a0a0a0"/>
<rect x="586" y="13" width="3" height="1" fill="#a0a0a0"/>
<rect x="586" y="15" width="3" height="1" fill="#a0a0a0"/>
<rect x="586" y="17" width="3" height="1" fill="#a0a0a0"/>
<rect x="586" y="19" width="3" height="1" fill="#a0a0a0"/>
<rect x="586" y="21" width="3" height="1" fill="#a0a0a0"/>
<rect x="592" y="1" width="26" height="22" fill="url(#chk)"/>
<rect x="617" y="1" width="1" height="22" fill="#ffffff"/>
<rect x="592" y="22" width="26" height="1" fill="#ffffff"/>
<rect x="592" y="1" width="25" height="1" fill="#a0a0a0"/>
<rect x="592" y="1" width="1" height="22" fill="#a0a0a0"/>
<polygon points="600.2,5.6 600.2,16.9 602.8,14.6 605.4,20.4 607.2,19.5 604.7,13.9 608.2,13.6" fill="#4c4c4c" shape-rendering="geometricPrecision"/>
<rect x="625" y="13" width="6" height="1" fill="#505050"/>
<rect x="634" y="13" width="6" height="1" fill="#505050"/>
<rect x="632" y="13" width="1" height="1" fill="#a0a0a0"/>
<rect x="632" y="6" width="1" height="6" fill="#505050"/>
<rect x="632" y="15" width="1" height="6" fill="#505050"/>
<rect x="649" y="2" width="1" height="21" fill="#a0a0a0"/>
<rect x="650" y="2" width="1" height="21" fill="#ffffff"/>
<rect x="666" y="7" width="1" height="13" fill="#505050"/>
<rect x="689" y="13" width="12" height="1" fill="#505050"/>
<path d="M717,19.9 L729,7.6" stroke="#505050" stroke-width="1.1" shape-rendering="geometricPrecision"/>
<g stroke="#505050" stroke-width="1" fill="none" shape-rendering="geometricPrecision"><path d="M743,14.6 L751.2,6.8 M745.6,17.2 L754,9 M748.6,19.6 L756.8,11.6"/><path d="M745.6,11.6 L745.8,19.6 M748.6,9 L750,17.8 M751.8,7.4 L753.4,15 M755,5 L755.6,12.4" stroke-width="1.2"/></g>
<text x="753.8" y="21.8" font-size="7" font-weight="bold" fill="#303030">E</text>
<line x1="772" y1="6.5" x2="786" y2="6.5" stroke="#505050" stroke-width="1" stroke-dasharray="1 1"/>
<line x1="772" y1="9.5" x2="786" y2="9.5" stroke="#505050" stroke-width="1" stroke-dasharray="1 1"/>
<line x1="772" y1="13.5" x2="786" y2="13.5" stroke="#505050" stroke-width="1" stroke-dasharray="1 1"/>
<line x1="772" y1="17.5" x2="781" y2="17.5" stroke="#505050" stroke-width="1" stroke-dasharray="1 1"/>
<text x="781.6" y="21.8" font-size="7" font-weight="bold" fill="#303030">F</text>
<text transform="translate(806.8 18) scale(.86 1)" font-size="13" text-anchor="middle" fill="#505050">A</text>
<rect x="829.5" y="7.5" width="11" height="12" fill="none" stroke="#505050" stroke-width="1" stroke-dasharray="1 1"/>
<rect x="828" y="6" width="2" height="1" fill="#505050"/>
<text x="835.2" y="17.9" font-size="11" font-weight="bold" text-anchor="middle" fill="#505050">T</text>
<g fill="#505050" shape-rendering="geometricPrecision"><polygon points="859.8,7.2 863.4,10.6 856.2,10.6"/><polygon points="857.4,10.6 862.2,10.6 859.8,12.4"/><polygon points="866.4,19.8 870,16.4 862.8,16.4"/><polygon points="864,16.4 868.8,16.4 866.4,14.6"/><path d="M858.6,14.2 L860.8,16.4 L866.4,10.8" fill="none" stroke="#505050" stroke-width="1.3"/></g>
<polygon points="876.5,12 882.5,12 879.5,15.3" fill="#000" shape-rendering="geometricPrecision"/>
<rect x="888" y="0" width="1" height="25" fill="#a0a0a0"/>
<rect x="889" y="0" width="1" height="25" fill="#ffffff"/>
<rect x="892" y="3" width="3" height="1" fill="#a0a0a0"/>
<rect x="892" y="5" width="3" height="1" fill="#a0a0a0"/>
<rect x="892" y="7" width="3" height="1" fill="#a0a0a0"/>
<rect x="892" y="9" width="3" height="1" fill="#a0a0a0"/>
<rect x="892" y="11" width="3" height="1" fill="#a0a0a0"/>
<rect x="892" y="13" width="3" height="1" fill="#a0a0a0"/>
<rect x="892" y="15" width="3" height="1" fill="#a0a0a0"/>
<rect x="892" y="17" width="3" height="1" fill="#a0a0a0"/>
<rect x="892" y="19" width="3" height="1" fill="#a0a0a0"/>
<rect x="892" y="21" width="3" height="1" fill="#a0a0a0"/>
<rect x="1038" y="1" width="25" height="23" fill="url(#chk)"/>
<rect x="1062" y="1" width="1" height="23" fill="#ffffff"/>
<rect x="1038" y="23" width="25" height="1" fill="#ffffff"/>
<rect x="1038" y="1" width="24" height="1" fill="#a0a0a0"/>
<rect x="1038" y="1" width="1" height="23" fill="#a0a0a0"/>
<text transform="translate(909.9 17) scale(.9 1)" font-size="10.7" text-anchor="middle" fill="#1c1c1c">M1</text>
<text transform="translate(938 17) scale(.9 1)" font-size="10.7" text-anchor="middle" fill="#1c1c1c">M5</text>
<text transform="translate(966.5 17) scale(.9 1)" font-size="10.7" text-anchor="middle" fill="#1c1c1c">M15</text>
<text transform="translate(994.4 17) scale(.9 1)" font-size="10.7" text-anchor="middle" fill="#1c1c1c">M30</text>
<text transform="translate(1022.6 17) scale(.9 1)" font-size="10.7" text-anchor="middle" fill="#1c1c1c">H1</text>
<text transform="translate(1049.7 17) scale(.9 1)" font-size="10.7" text-anchor="middle" fill="#1c1c1c">H4</text>
<text transform="translate(1078.5 17) scale(.9 1)" font-size="10.7" text-anchor="middle" fill="#1c1c1c">D1</text>
<text transform="translate(1107.4 17) scale(.9 1)" font-size="10.7" text-anchor="middle" fill="#1c1c1c">W1</text>
<text transform="translate(1133.9 17) scale(.9 1)" font-size="10.7" text-anchor="middle" fill="#1c1c1c">MN</text>
<rect x="1149" y="0" width="1" height="25" fill="#a0a0a0"/>
<rect x="1150" y="0" width="1" height="25" fill="#ffffff"/>
<g shape-rendering="geometricPrecision"><path d="M1616.4,13.6 L1612.2,17.8" stroke="#2458d0" stroke-width="2.6" stroke-linecap="round"/><circle cx="1619.6" cy="10.3" r="3.9" fill="#fdfdff" stroke="#2860d4" stroke-width="1.3"/><ellipse cx="1642.4" cy="14.9" rx="6.3" ry="4.8" fill="url(#gBub)" stroke="#a8a8a8" stroke-width=".9"/><path d="M1638.6,18.8 L1639.3,21.8 L1642.2,19.4 Z" fill="#dcdce6" stroke="#a0a0a0" stroke-width=".6"/><ellipse cx="1643" cy="21.8" rx="5.5" ry=".7" fill="#c8c8c8" opacity=".7"/><circle cx="1650.5" cy="10.5" r="8.2" fill="url(#gRed)"/></g>
<text x="1649.7" y="14.9" font-size="12.5" font-weight="bold" text-anchor="middle" fill="#ffffff" font-family='"Liberation Serif", serif'>1</text>
</g>
</svg>
</body>
</html>
